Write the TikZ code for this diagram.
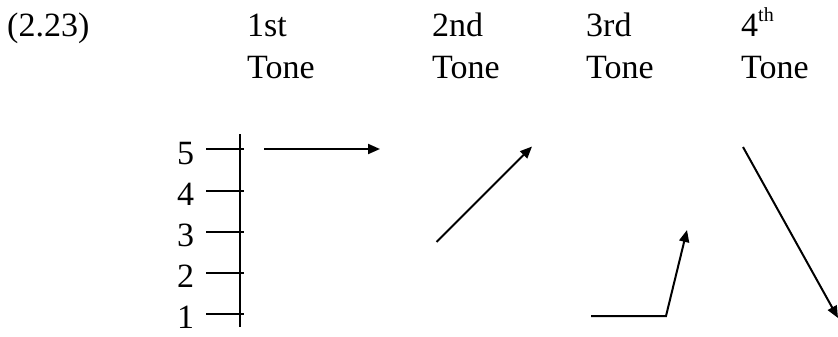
\documentclass[tikz,border=0pt]{standalone}
\usepackage{fontspec}
\setmainfont{Liberation Serif}
\usetikzlibrary{arrows.meta}
\tikzset{
  lbl/.style={anchor=base west, inner sep=0pt, font=\fontsize{34}{40}\selectfont},
  ax/.style={line width=2pt},
  tone/.style={line width=2pt, -{Triangle[length=12pt,width=10pt]}}
}
\begin{document}
\begin{tikzpicture}[x=1pt,y=-1pt]
\useasboundingbox (0,0) rectangle (838,337);
% header
\node[lbl] (num) at (7,37) {(2.23)};
\node[lbl] (t1a) at (247,37) {1st};
\node[lbl] (t1b) at (247,78) {Tone};
\node[lbl] (t2a) at (432,37) {2nd};
\node[lbl] (t2b) at (432,78) {Tone};
\node[lbl] (t3a) at (586,37) {3rd};
\node[lbl] (t3b) at (586,78) {Tone};
\node[lbl] (t4a) at (741,37) {4\raisebox{15pt}{\fontsize{20}{24}\selectfont th}};
\node[lbl] (t4b) at (741,78) {Tone};
% axis
\coordinate (axtop) at (239.5,134);
\coordinate (axbot) at (239.5,327);
\draw[ax] (axtop) -- (axbot);
\foreach \v/\y in {5/149,4/190.5,3/231.5,2/272.5,1/313.5}{
  \coordinate (tl\v) at (206,\y);
  \coordinate (tr\v) at (244,\y);
  \draw[ax] (tl\v) -- (tr\v);
  \node[lbl] (lab\v) at (177,\y+15) {\v};
}
% 1st tone
\coordinate (a1s) at (264,149);
\coordinate (a1e) at (380,149);
\draw[tone] (a1s) -- (a1e);
% 2nd tone
\coordinate (a2s) at (436.5,242);
\coordinate (a2e) at (532,146.5);
\draw[tone] (a2s) -- (a2e);
% 3rd tone
\coordinate (a3s) at (591,316);
\coordinate (a3m) at (666,316);
\coordinate (a3e) at (687,230);
\draw[tone] (a3s) -- (a3m) -- (a3e);
% 4th tone
\coordinate (a4s) at (743,147);
\coordinate (a4e) at (838,318);
\draw[tone] (a4s) -- (a4e);
\end{tikzpicture}
\end{document}
